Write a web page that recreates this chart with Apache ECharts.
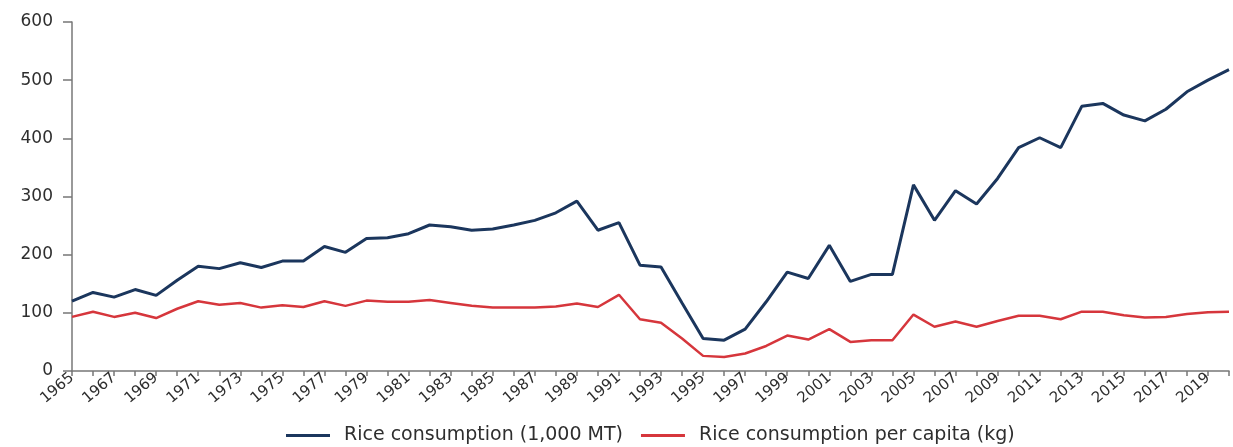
<!DOCTYPE html>
<html>
<head>
<meta charset="utf-8">
<script src="https://cdn.jsdelivr.net/npm/echarts@6/dist/echarts.min.js"></script>
<style>
html,body{margin:0;padding:0;background:#fff;}
#chart{width:1233px;height:447px;}
</style>
</head>
<body>
<div id="chart"></div>
<script>
const years = [];
for (let y = 1965; y <= 2020; y++) years.push(String(y));

const consumption = [
  120, 135, 127, 140, 130, 156, 180, 176, 186, 178,
  189, 189, 214, 204, 228, 229, 236, 251, 248, 242,
  244, 251, 259, 272, 292, 242, 255, 182, 179, 117,
  56, 53, 72, 119, 170, 159, 216, 154, 166, 166,
  320, 259, 310, 287, 331, 384, 401, 384, 455, 460,
  440, 430, 450, 480, 500, 518
];

const perCapita = [
  93, 102, 93, 100, 91, 107, 120, 114, 117, 109,
  113, 110, 120, 112, 121, 119, 119, 122, 117, 112,
  109, 109, 109, 111, 116, 110, 131, 89, 83, 56,
  26, 24, 30, 43, 61, 54, 72, 50, 53, 53,
  97, 76, 85, 76, 86, 95, 95, 89, 102, 102,
  96, 92, 93, 98, 101, 102
];

const seriesNames = ['Rice consumption (1,000 MT)', 'Rice consumption per capita (kg)'];
const yTicks = { min: 0, max: 600, interval: 100 };

const FONT = '"DejaVu Sans", Verdana, sans-serif';
const TEXT = '#2e2e2e';
const chart = echarts.init(document.getElementById('chart'));
chart.setOption({
  animation: false,
  backgroundColor: '#ffffff',
  textStyle: { fontFamily: FONT },
  grid: { left: 72, right: 4, top: 22, bottom: 76 },
  legend: {
    bottom: -3,
    left: 281,
    itemWidth: 44,
    itemHeight: 3,
    itemGap: 18,
    icon: 'rect',
    textStyle: { color: TEXT, fontSize: 19, fontFamily: FONT, padding: [0, 0, 0, 9] },
    data: seriesNames
  },
  xAxis: {
    type: 'category',
    data: years,
    boundaryGap: false,
    axisLine: { lineStyle: { color: '#777', width: 1.5 } },
    axisTick: { show: true, interval: 0, length: 5, lineStyle: { color: '#777', width: 1.5 } },
    axisLabel: {
      interval: 1,
      rotate: 40,
      color: TEXT,
      fontSize: 15,
      fontFamily: FONT,
      margin: 5
    },
    splitLine: { show: false }
  },
  yAxis: {
    type: 'value',
    min: yTicks.min,
    max: yTicks.max,
    interval: yTicks.interval,
    axisLine: { show: true, lineStyle: { color: '#777', width: 1.5 } },
    axisTick: { show: true, length: 9, lineStyle: { color: '#777', width: 1.5 } },
    axisLabel: { color: TEXT, fontSize: 17, fontFamily: FONT, margin: 19 },
    splitLine: { show: false }
  },
  series: [
    {
      name: seriesNames[0],
      type: 'line',
      data: consumption,
      showSymbol: false,
      symbol: 'none',
      lineStyle: { color: '#1b365d', width: 3 },
      itemStyle: { color: '#1b365d' }
    },
    {
      name: seriesNames[1],
      type: 'line',
      data: perCapita,
      showSymbol: false,
      symbol: 'none',
      lineStyle: { color: '#d6363c', width: 2.5 },
      itemStyle: { color: '#d6363c' }
    }
  ]
});
</script>
</body>
</html>
